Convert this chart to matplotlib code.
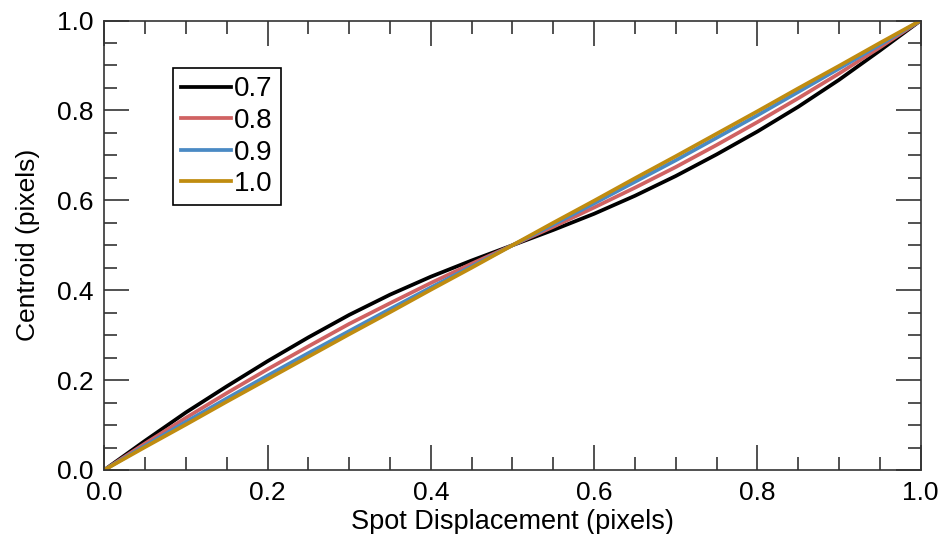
import matplotlib
matplotlib.use("Agg")
import matplotlib.pyplot as plt
from matplotlib.ticker import MultipleLocator

plt.rcParams["font.family"] = ["Liberation Sans", "DejaVu Sans"]

displacement = [0.0, 0.05, 0.1, 0.15, 0.2, 0.25, 0.3, 0.35, 0.4, 0.45, 0.5,
                0.55, 0.6, 0.65, 0.7, 0.75, 0.8, 0.85, 0.9, 0.95, 1.0]

centroid_07 = [0.0, 0.065, 0.128, 0.186, 0.242, 0.295, 0.345, 0.390, 0.430, 0.466, 0.5,
               0.534, 0.570, 0.610, 0.654, 0.702, 0.753, 0.808, 0.868, 0.933, 1.0]
centroid_08 = [0.0, 0.059, 0.116, 0.171, 0.224, 0.275, 0.325, 0.371, 0.416, 0.459, 0.5,
               0.541, 0.584, 0.628, 0.674, 0.723, 0.774, 0.827, 0.882, 0.940, 1.0]
centroid_09 = [0.0, 0.054, 0.107, 0.159, 0.210, 0.260, 0.309, 0.358, 0.406, 0.453, 0.5,
               0.546, 0.593, 0.641, 0.689, 0.739, 0.789, 0.841, 0.893, 0.946, 1.0]
centroid_10 = [0.0, 0.051, 0.101, 0.152, 0.202, 0.252, 0.302, 0.351, 0.401, 0.450, 0.5,
               0.550, 0.599, 0.649, 0.698, 0.748, 0.798, 0.849, 0.899, 0.950, 1.0]

labels = ["0.7", "0.8", "0.9", "1.0"]
colors = ["black", "#d06262", "#4a8ac4", "#c08c10"]

fig = plt.figure(figsize=(9.41, 5.34), dpi=100)
ax = fig.add_axes([0.1108, 0.1199, 0.8676, 0.8417])

for ys, lab, col in zip([centroid_07, centroid_08, centroid_09, centroid_10], labels, colors):
    ax.plot(displacement, ys, color=col, linewidth=2.7, label=lab, solid_joinstyle="round")

ax.set_xlim(0, 1)
ax.set_ylim(0, 1)
ax.xaxis.set_major_locator(MultipleLocator(0.2))
ax.xaxis.set_minor_locator(MultipleLocator(0.05))
ax.yaxis.set_major_locator(MultipleLocator(0.2))
ax.yaxis.set_minor_locator(MultipleLocator(0.05))
ax.tick_params(which="both", direction="in", top=True, right=True, labelsize=19,
               color="#333333", width=1.2)
ax.tick_params(which="major", length=18, pad=8)
ax.tick_params(which="minor", length=9.5)
for s in ax.spines.values():
    s.set_linewidth(1.2)
    s.set_color("#333333")

ax.set_xlabel("Spot Displacement (pixels)", fontsize=19.5, labelpad=3)
ax.set_ylabel("Centroid (pixels)", fontsize=19, labelpad=12)

leg = ax.legend(loc="upper left", bbox_to_anchor=(0.084, 0.894), fontsize=20,
                handlelength=1.8, handletextpad=0.1, labelspacing=0.2,
                borderpad=0.3, borderaxespad=0, fancybox=False, framealpha=1)
leg.get_frame().set_edgecolor("black")
leg.get_frame().set_linewidth(1.2)

fig.savefig("out.png", dpi=100)
